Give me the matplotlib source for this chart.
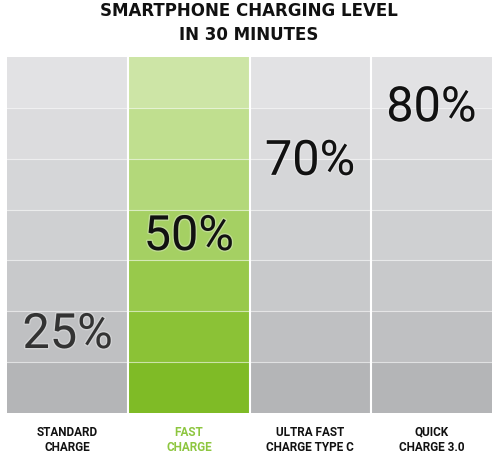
import matplotlib
matplotlib.use('Agg')
import matplotlib.pyplot as plt
import matplotlib.patheffects as pe

# chart data
categories = ['STANDARD\nCHARGE', 'FAST\nCHARGE', 'ULTRA FAST\nCHARGE TYPE C', 'QUICK\nCHARGE 3.0']
levels = [25, 50, 70, 80]
title = 'SMARTPHONE CHARGING LEVEL\nIN 30 MINUTES'

# band shades, top -> bottom
gray_bands = ['#e2e2e4', '#dcdcde', '#d5d6d8', '#cfd0d2', '#c8c9cb', '#bfc0c2', '#b4b5b7']
green_bands = ['#cde5a6', '#c0df8f', '#b3d87a', '#a5d063', '#98c94b', '#8bc236', '#7fbb26']
highlight = 1  # FAST CHARGE column
label_nudge = [-11, -2, 2, 20]  # px, fine placement of the big numbers (+ = up)

W, H = 498, 467
fig = plt.figure(figsize=(W / 100, H / 100), dpi=100)
ax = fig.add_axes([7 / W, (H - 413) / H, 485 / W, 356 / H])

n_bands = len(gray_bands)
band_h = 100 / n_bands
for i in range(len(categories)):
    shades = green_bands if i == highlight else gray_bands
    for j, c in enumerate(shades[::-1]):
        ax.bar(i, band_h, bottom=j * band_h, width=1.0, color=c,
               edgecolor='none', align='center')

# band separators
for j in range(1, n_bands):
    ax.axhline(j * band_h, color='white', lw=0.8, alpha=0.6)
for i in range(1, len(categories)):
    ax.axvline(i - 0.5, color='white', lw=1.5)

for i, v in enumerate(levels):
    col = '#333333' if i == 0 else '#111111'
    ax.annotate(f'{v}%', (i, v), xytext=(0, label_nudge[i] * 0.72),
                textcoords='offset points', ha='center', va='center',
                fontsize=35, family='Roboto', color=col,
                path_effects=[pe.withStroke(linewidth=2, foreground='#f2f2f2', alpha=0.35)])

ax.set_xlim(-0.5, len(categories) - 0.5)
ax.set_ylim(0, 100)
ax.axis('off')

fig.text(0.5, 1 - 23 / H, title, ha='center', va='center', fontsize=12,
         fontweight='bold', color='#111111', linespacing=1.45)

for i, lab in enumerate(categories):
    x = (7 + 121.25 * (i + 0.5)) / W
    col = '#8dc63f' if i == highlight else '#111111'
    fig.text(x, 1 - 440 / H, lab, ha='center', va='center', fontsize=8.5,
             fontweight='bold', family='Roboto', color=col, linespacing=1.25)

fig.savefig('out.png', dpi=100, facecolor='white')
